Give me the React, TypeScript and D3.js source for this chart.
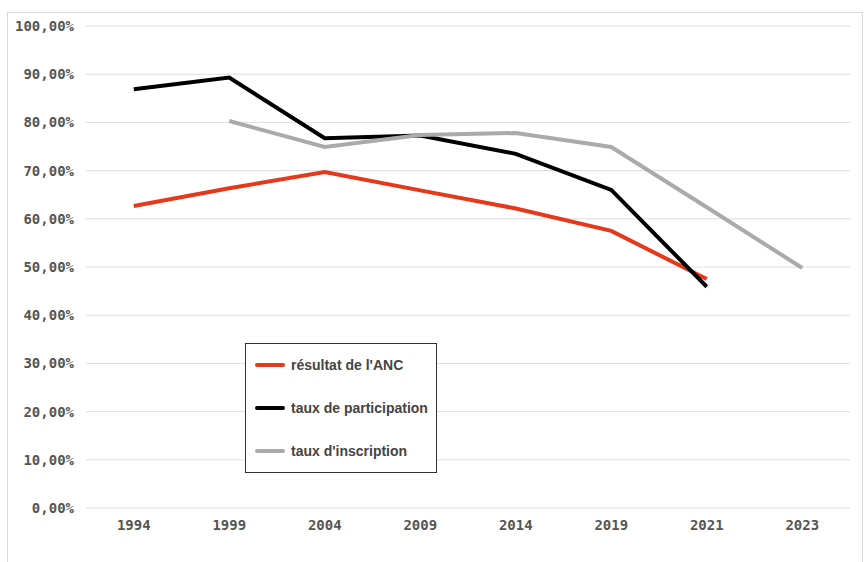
import React from 'react'
import * as d3 from 'd3'

const width = 864
const height = 562

const years = ['1994', '1999', '2004', '2009', '2014', '2019', '2021', '2023']
const ancResult = [62.65, 66.35, 69.69, 65.9, 62.15, 57.5, 47.5, null]
const turnout = [86.87, 89.3, 76.73, 77.3, 73.48, 66.0, 45.9, null]
const registration = [null, 80.3, 74.9, 77.4, 77.8, 74.9, 62.4, 49.8]
const yTicks = [0, 10, 20, 30, 40, 50, 60, 70, 80, 90, 100]

const series = [
  { label: "résultat de l'ANC", values: ancResult, color: '#e6391b' },
  { label: 'taux de participation', values: turnout, color: '#000000' },
  { label: "taux d'inscription", values: registration, color: '#aaaaaa' },
]

const x = d3.scalePoint().domain(years).range([86, 850]).padding(0.5)
const y = d3.scaleLinear().domain([0, 100]).range([508, 26])

const fmt = (v: number) => v.toFixed(2).replace('.', ',') + '%'

export default function App() {
  const line = d3
    .line<number | null>()
    .defined(d => d != null)
    .x((d, i) => x(years[i]) as number)
    .y(d => y(d as number))

  return (
    <svg width={width} height={height} style={{ position: 'absolute', left: 0, top: 0 }}>
      <rect x={7.5} y={12.5} width={855} height={560} fill="#fff" stroke="#d9d9d9" />
      {yTicks.map(t => (
        <g key={t}>
          <line x1={86} x2={850} y1={y(t)} y2={y(t)} stroke="#dedede" strokeWidth={1} />
          <text
            x={74}
            y={y(t)}
            dy="0.35em"
            textAnchor="end"
            fontFamily="DejaVu Sans Mono"
            fontWeight="bold"
            fontSize={14}
            fill="#555"
          >
            {fmt(t)}
          </text>
        </g>
      ))}
      {years.map(yr => (
        <text
          key={yr}
          x={x(yr)}
          y={525}
          dy="0.35em"
          textAnchor="middle"
          fontFamily="DejaVu Sans Mono"
          fontWeight="bold"
          fontSize={14}
          fill="#555"
        >
          {yr}
        </text>
      ))}
      {series.map(s => (
        <path
          key={s.label}
          d={line(s.values) || ''}
          fill="none"
          stroke={s.color}
          strokeWidth={4}
          strokeLinejoin="miter"
        />
      ))}
      <g>
        <rect x={245.5} y={343.5} width={191} height={129} fill="#fff" stroke="#333" strokeWidth={1} />
        {series.map((s, i) => (
          <g key={s.label} transform={`translate(257,${365 + i * 43})`}>
            <line x1={0} x2={26} y1={0} y2={0} stroke={s.color} strokeWidth={4} strokeLinecap="round" />
            <text
              x={34}
              y={0}
              dy="0.35em"
              fontFamily="Liberation Sans, Arial, sans-serif"
              fontWeight="bold"
              fontSize={14}
              fill="#444"
            >
              {s.label}
            </text>
          </g>
        ))}
      </g>
    </svg>
  )
}
